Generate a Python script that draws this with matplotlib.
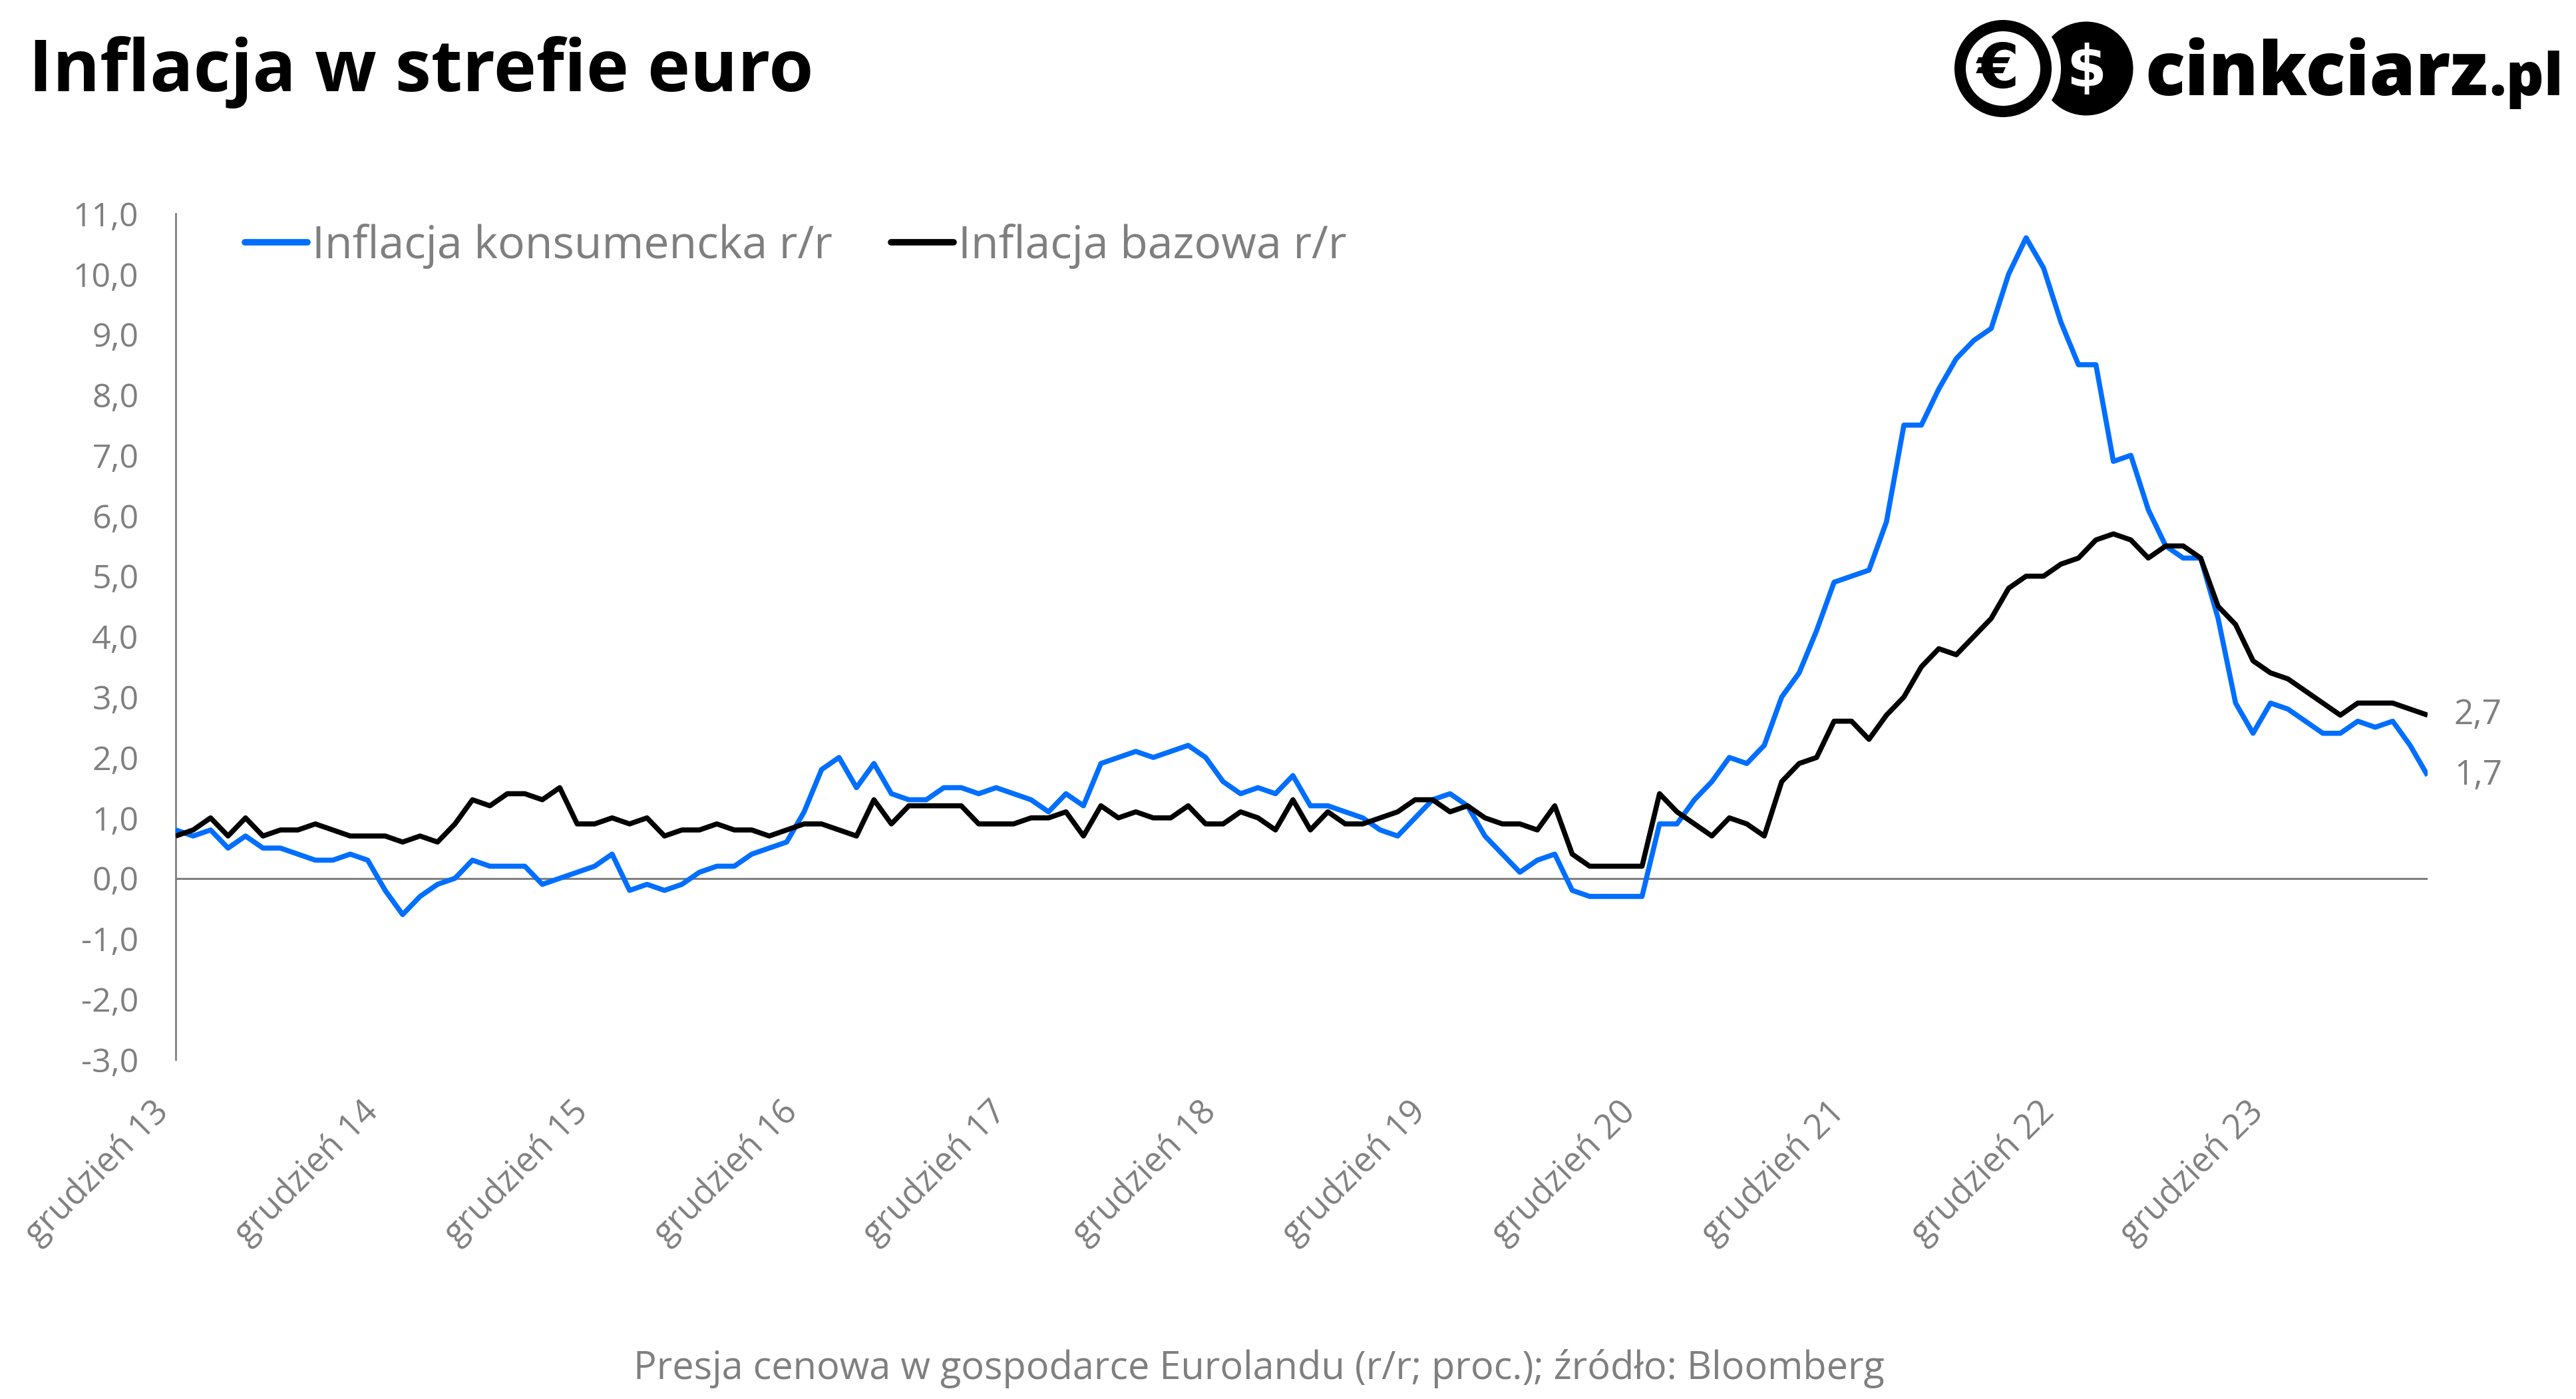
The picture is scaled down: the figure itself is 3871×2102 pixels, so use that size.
import matplotlib
matplotlib.use('Agg')
import matplotlib.pyplot as plt
from matplotlib.patches import Circle
import numpy as np

# ---------------- data ----------------
tick_labels = ['grudzień 13', 'grudzień 14', 'grudzień 15', 'grudzień 16', 'grudzień 17',
               'grudzień 18', 'grudzień 19', 'grudzień 20', 'grudzień 21', 'grudzień 22',
               'grudzień 23']
tick_positions = [0, 12, 24, 36, 48, 60, 72, 84, 96, 108, 120]

cpi = [0.8,
       0.7, 0.8, 0.5, 0.7, 0.5, 0.5, 0.4, 0.3, 0.3, 0.4, 0.3, -0.2,
       -0.6, -0.3, -0.1, 0.0, 0.3, 0.2, 0.2, 0.2, -0.1, 0.0, 0.1, 0.2,
       0.4, -0.2, -0.1, -0.2, -0.1, 0.1, 0.2, 0.2, 0.4, 0.5, 0.6, 1.1,
       1.8, 2.0, 1.5, 1.9, 1.4, 1.3, 1.3, 1.5, 1.5, 1.4, 1.5, 1.4,
       1.3, 1.1, 1.4, 1.2, 1.9, 2.0, 2.1, 2.0, 2.1, 2.2, 2.0, 1.6,
       1.4, 1.5, 1.4, 1.7, 1.2, 1.2, 1.1, 1.0, 0.8, 0.7, 1.0, 1.3,
       1.4, 1.2, 0.7, 0.4, 0.1, 0.3, 0.4, -0.2, -0.3, -0.3, -0.3, -0.3,
       0.9, 0.9, 1.3, 1.6, 2.0, 1.9, 2.2, 3.0, 3.4, 4.1, 4.9, 5.0,
       5.1, 5.9, 7.5, 7.5, 8.1, 8.6, 8.9, 9.1, 10.0, 10.6, 10.1, 9.2,
       8.5, 8.5, 6.9, 7.0, 6.1, 5.5, 5.3, 5.3, 4.3, 2.9, 2.4, 2.9,
       2.8, 2.6, 2.4, 2.4, 2.6, 2.5, 2.6, 2.2, 1.7]

core = [0.7,
        0.8, 1.0, 0.7, 1.0, 0.7, 0.8, 0.8, 0.9, 0.8, 0.7, 0.7, 0.7,
        0.6, 0.7, 0.6, 0.9, 1.3, 1.2, 1.4, 1.4, 1.3, 1.5, 0.9, 0.9,
        1.0, 0.9, 1.0, 0.7, 0.8, 0.8, 0.9, 0.8, 0.8, 0.7, 0.8, 0.9,
        0.9, 0.8, 0.7, 1.3, 0.9, 1.2, 1.2, 1.2, 1.2, 0.9, 0.9, 0.9,
        1.0, 1.0, 1.1, 0.7, 1.2, 1.0, 1.1, 1.0, 1.0, 1.2, 0.9, 0.9,
        1.1, 1.0, 0.8, 1.3, 0.8, 1.1, 0.9, 0.9, 1.0, 1.1, 1.3, 1.3,
        1.1, 1.2, 1.0, 0.9, 0.9, 0.8, 1.2, 0.4, 0.2, 0.2, 0.2, 0.2,
        1.4, 1.1, 0.9, 0.7, 1.0, 0.9, 0.7, 1.6, 1.9, 2.0, 2.6, 2.6,
        2.3, 2.7, 3.0, 3.5, 3.8, 3.7, 4.0, 4.3, 4.8, 5.0, 5.0, 5.2,
        5.3, 5.6, 5.7, 5.6, 5.3, 5.5, 5.5, 5.3, 4.5, 4.2, 3.6, 3.4,
        3.3, 3.1, 2.9, 2.7, 2.9, 2.9, 2.9, 2.8, 2.7]

series_names = ['Inflacja konsumencka r/r', 'Inflacja bazowa r/r']
y_ticks = [-3, -2, -1, 0, 1, 2, 3, 4, 5, 6, 7, 8, 9, 10, 11]

# ---------------- style ----------------
W, H = 3871, 2102
DPI = 100
BLUE = '#006EFF'
BLACK = '#000000'
GREY = '#808080'
TXT = '#7F7F7F'
plt.rcParams['font.family'] = ['Open Sans', 'DejaVu Sans']

fig = plt.figure(figsize=(W / DPI, H / DPI), dpi=DPI)
fig.patch.set_facecolor('white')

ax = fig.add_axes([264 / W, 1 - 1592 / H, (3648 - 264) / W, (1592 - 321) / H])
x = np.arange(len(cpi))
ax.plot(x, cpi, color=BLUE, lw=5.5, solid_joinstyle='round', solid_capstyle='butt',
        label=series_names[0], zorder=3)
ax.plot(x, core, color=BLACK, lw=5.5, solid_joinstyle='round', solid_capstyle='butt',
        label=series_names[1], zorder=4)

ax.set_xlim(0, len(cpi) - 1)
ax.set_ylim(-3, 11)
ax.axhline(0, color=GREY, lw=2.2, zorder=2)

for s in ['top', 'right', 'bottom']:
    ax.spines[s].set_visible(False)
ax.spines['left'].set_color(GREY)
ax.spines['left'].set_linewidth(2.0)

ax.set_yticks(y_ticks)
ax.set_yticklabels([f'{v:.1f}'.replace('.', ',') for v in y_ticks])
ax.set_xticks(tick_positions)
ax.set_xticklabels(tick_labels, rotation=45, ha='right', va='top')
ax.tick_params(axis='y', length=0, pad=40, labelsize=36, labelcolor=TXT)
ax.tick_params(axis='x', length=0, pad=38, labelsize=37, labelcolor=TXT)

# end labels
ax.annotate(f'{core[-1]:.1f}'.replace('.', ','), xy=(x[-1], core[-1]), xytext=(40, 0),
            textcoords='offset pixels', va='center', ha='left', fontsize=37, color=TXT)
ax.annotate(f'{cpi[-1]:.1f}'.replace('.', ','), xy=(x[-1], cpi[-1]), xytext=(40, 0),
            textcoords='offset pixels', va='center', ha='left', fontsize=37, color=TXT)

# legend
leg = ax.legend(loc='center left', bbox_to_anchor=(368 / W, 1 - 370 / H),
                bbox_transform=fig.transFigure, ncol=2, frameon=False, fontsize=49,
                handlelength=1.38, handletextpad=0.1, columnspacing=1.3,
                borderpad=0, borderaxespad=0, labelcolor=TXT)
for h in leg.legend_handles:
    h.set_linewidth(7)
    h.set_solid_capstyle('round')

# title
fig.text(43 / W, 1 - 137 / H, 'Inflacja w strefie euro', fontsize=78, fontweight='bold',
         color='black', ha='left', va='baseline')

# footer
fig.text(1892 / W, 1 - 2072 / H,
         'Presja cenowa w gospodarce Eurolandu (r/r; proc.); źródło: Bloomberg',
         fontsize=41.5, color=TXT, ha='center', va='baseline')

# logo
lax = fig.add_axes([0, 0, 1, 1], facecolor='none')
lax.set_xlim(0, W)
lax.set_ylim(H, 0)
lax.axis('off')
lax.add_patch(Circle((3135, 103), 70.5, fc='black', ec='none'))
lax.add_patch(Circle((3010, 103), 87, fc='white', ec='none'))
lax.add_patch(Circle((3010, 103), 73, fc='black', ec='none'))
lax.add_patch(Circle((3010, 103), 56, fc='white', ec='none'))
lax.text(3003, 106, '€', fontsize=66, fontweight='bold', color='black', ha='center',
         va='center', family='DejaVu Sans')
lax.text(3135, 106, '$', fontsize=62, fontweight='bold', color='white', ha='center',
         va='center', family='DejaVu Sans')

t1 = fig.text(3223 / W, 1 - 143 / H, 'cinkciarz', fontsize=80, fontweight='heavy',
              family='Open Sans', color='black', ha='left', va='baseline')
fig.canvas.draw()
r = fig.canvas.get_renderer()
bb = t1.get_window_extent(r)
fig.text((bb.x1 + 2) / W, 1 - 143 / H, '.pl', fontsize=64, fontweight='heavy',
         family='Open Sans', color='black', ha='left', va='baseline')

fig.savefig('out.png', dpi=DPI, facecolor='white')
